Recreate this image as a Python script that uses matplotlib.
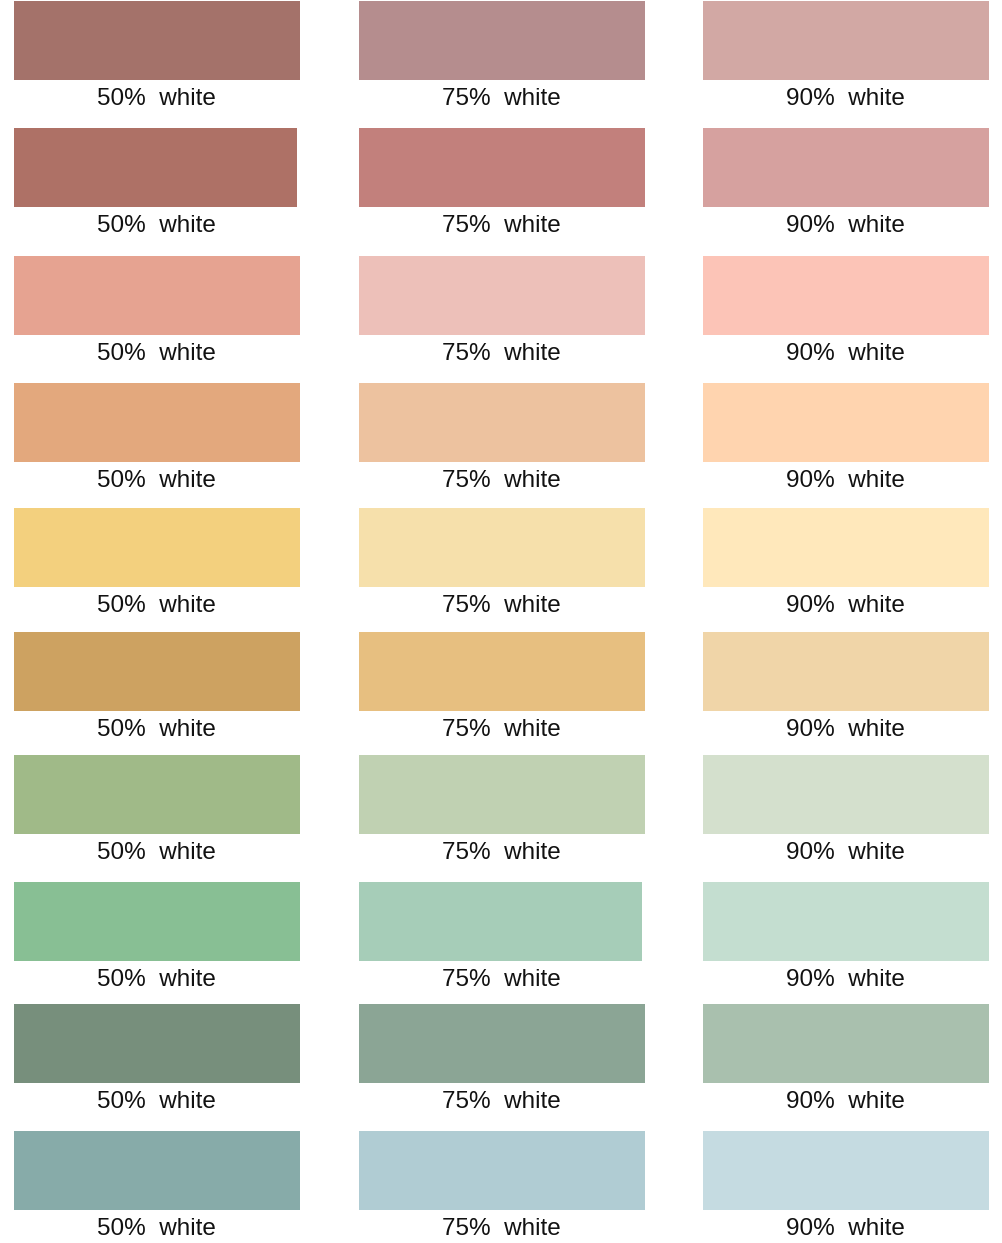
import matplotlib
matplotlib.use('Agg')
import matplotlib.pyplot as plt

# swatch colours, one list per tint level (rows top to bottom)
tint_levels = ['50%', '75%', '90%']
colors_50 = ['#A4726A', '#AE7166', '#E6A391', '#E3A87D', '#F3D07E',
             '#CDA261', '#A0BA88', '#88BF94', '#778F7C', '#87ABA9']
colors_75 = ['#B58D8E', '#C2807C', '#EDC0B9', '#EDC29F', '#F6E0AB',
             '#E7BF80', '#C0D1B2', '#A6CDB8', '#8BA595', '#B0CCD3']
colors_90 = ['#D2A8A4', '#D6A19F', '#FCC4B7', '#FFD4AF', '#FFE8BB',
             '#F0D5A8', '#D4E0CD', '#C4DED0', '#A9C0AE', '#C5DBE1']
columns = [colors_50, colors_75, colors_90]

# layout (pixels)
W, H = 1003, 1243
col_left = [14, 359, 703]
row_top = [1, 128, 256, 383, 508, 632, 755, 882, 1004, 1131]
sw_w, sw_h = 286, 79
# a couple of swatches are slightly narrower in the original
width_fix = {(1, 0): 283, (7, 1): 283}

fig = plt.figure(figsize=(W / 100, H / 100), dpi=100)
ax = fig.add_axes([0, 0, 1, 1])
ax.set_xlim(0, W)
ax.set_ylim(H, 0)
ax.axis('off')

for c, (lvl, cols) in enumerate(zip(tint_levels, columns)):
    for r, col in enumerate(cols):
        w = width_fix.get((r, c), sw_w)
        ax.bar(col_left[c], sw_h, width=w, bottom=row_top[r], align='edge',
               color=col, linewidth=0)
        ax.text(col_left[c] + sw_w / 2 - 1, row_top[r] + sw_h + 19, lvl + '  white',
                ha='center', va='center', fontsize=17.5,
                family=['Liberation Sans', 'DejaVu Sans'], color='#111111')

fig.savefig('out.png', dpi=100)
